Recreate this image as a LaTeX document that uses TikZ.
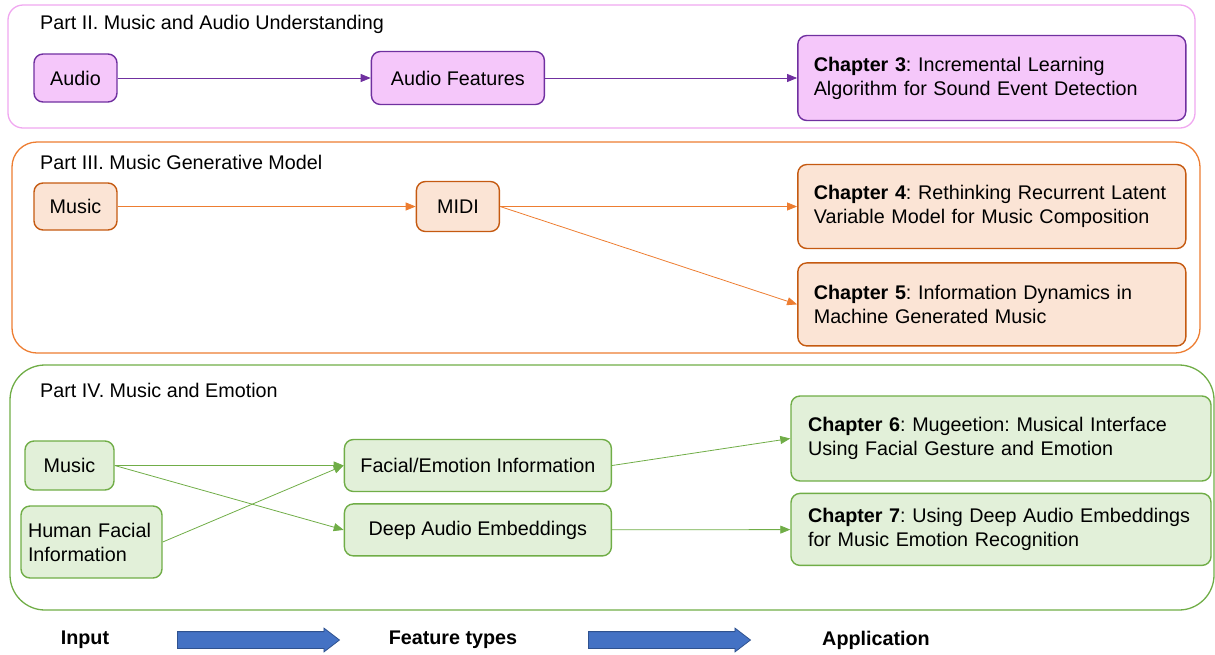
\documentclass[tikz,border=0pt]{standalone}
\usepackage{fontspec}
\setmainfont{Liberation Sans}
\frenchspacing
\usetikzlibrary{arrows.meta, positioning, shapes.arrows}
\definecolor{pinkframe}{RGB}{240,168,240}
\definecolor{purplefill}{RGB}{245,199,250}
\definecolor{purpleline}{RGB}{112,48,160}
\definecolor{orangeframe}{RGB}{237,125,49}
\definecolor{orangefill}{RGB}{251,228,213}
\definecolor{orangeline}{RGB}{197,90,17}
\definecolor{greenline}{RGB}{112,173,71}
\definecolor{greenfill}{RGB}{226,240,217}
\definecolor{bluefill}{RGB}{68,114,196}
\definecolor{blueline}{RGB}{47,82,143}

\begin{document}
\begin{tikzpicture}[x=1pt, y=-1pt,
    font=\fontsize{19.75}{24}\selectfont,
    box/.style={draw, rounded corners=9pt, line width=1.4pt, inner sep=0pt, align=center},
    purplebox/.style={box, draw=purpleline, fill=purplefill},
    orangebox/.style={box, draw=orangeline, fill=orangefill},
    greenbox/.style={box, draw=greenline, fill=greenfill},
    chapter/.style={align=left, text width=#1},
    parttitle/.style={anchor=west, inner sep=0pt},
    legend/.style={font=\fontsize{19.75}{24}\selectfont\bfseries},
    frame/.style={line width=1.3pt},
    flow/.style={-{Triangle[length=10pt,width=8pt]}, line width=0.8pt},
    bigarrow/.style={single arrow, draw=blueline, fill=bluefill, line width=0.8pt,
        minimum height=162pt, minimum width=23pt, single arrow head extend=3.5pt,
        single arrow tip angle=75, inner xsep=0pt, inner ysep=8pt}
]
\useasboundingbox (0,0) rectangle (1215,654);

% Part II
\draw[frame, draw=pinkframe, rounded corners=15pt] (8,5) rectangle (1195,128);
\node[parttitle] (p2) at (40,24) {Part II. Music and Audio Understanding};

\node[purplebox, minimum width=83pt, minimum height=48pt] (audio) at (75.5,78) {Audio};
\node[purplebox, minimum width=173pt, minimum height=53pt, right=253pt of audio] (feat) {Audio Features};
\node[purplebox, chapter=356pt, inner xsep=16pt, minimum height=85pt, right=252pt of feat] (ch3) {
    \textbf{Chapter 3}: Incremental Learning\\
    Algorithm for Sound Event Detection
};

\draw[flow, purpleline] (audio) -- (feat);
\draw[flow, purpleline] (feat) -- (ch3);

% Part III
\draw[frame, draw=orangeframe, rounded corners=25pt] (12,142) rectangle (1200,353);
\node[parttitle] (p3) at (40,162) {Part III. Music Generative Model};

\node[orangebox, minimum width=83pt, minimum height=47pt] (music3) at (75.5,206.5) {Music};
\node[orangebox, minimum width=83pt, minimum height=50pt, right=298pt of music3] (midi) {MIDI};
\node[orangebox, chapter=356pt, inner xsep=16pt, minimum height=84pt, right=297pt of midi] (ch4) {
    \textbf{Chapter 4}: Rethinking Recurrent Latent\\
    Variable Model for Music Composition
};
\node[orangebox, chapter=356pt, inner xsep=16pt, minimum height=83pt, below=13pt of ch4] (ch5) {
    \textbf{Chapter 5}: Information Dynamics in\\
    Machine Generated Music
};

\draw[flow, orangeframe] (music3) -- (midi);
\draw[flow, orangeframe] (midi) -- (ch4);
\draw[flow, orangeframe] (midi.east) -- (ch5.west);

% Part IV
\draw[frame, draw=greenline, rounded corners=35pt] (10,365) rectangle (1214,610);
\node[parttitle] (p4) at (40,390) {Part IV. Music and Emotion};

\node[greenbox, minimum width=89pt, minimum height=49pt] (music4) at (69.5,465.5) {Music};
\node[greenbox, chapter=127pt, inner xsep=7pt, minimum height=72pt] (human) at (91.5,542) {
    Human Facial\\
    Information
};
\node[greenbox, minimum width=267pt, minimum height=52pt, right=229pt of music4] (facial) {Facial/Emotion Information};
\node[greenbox, minimum width=267pt, minimum height=52pt, below=11pt of facial] (deep) {Deep Audio Embeddings};
\node[greenbox, chapter=386pt, inner xsep=17pt, minimum height=85pt] (ch6) at (1001,438.5) {
    \textbf{Chapter 6}: Mugeetion: Musical Interface\\
    Using Facial Gesture and Emotion
};
\node[greenbox, chapter=386pt, inner xsep=17pt, minimum height=72pt, below=11pt of ch6] (ch7) {
    \textbf{Chapter 7}: Using Deep Audio Embeddings\\
    for Music Emotion Recognition
};

\draw[flow, greenline] (music4) -- (facial);
\draw[flow, greenline] (music4.east) -- (deep.west);
\draw[flow, greenline] (human.east) -- (facial.west);
\draw[flow, greenline] (facial.east) -- (ch6.west);
\draw[flow, greenline] (deep) -- (ch7);

% Legend
\node[legend] (input) at (85,640) {Input};
\node[bigarrow] (arr1) at (253,640) {};
\node[legend] (ftypes) at (453,640) {Feature types};
\node[bigarrow] (arr2) at (664,640) {};
\node[legend] (app) at (876,640) {Application};

\end{tikzpicture}
\end{document}
